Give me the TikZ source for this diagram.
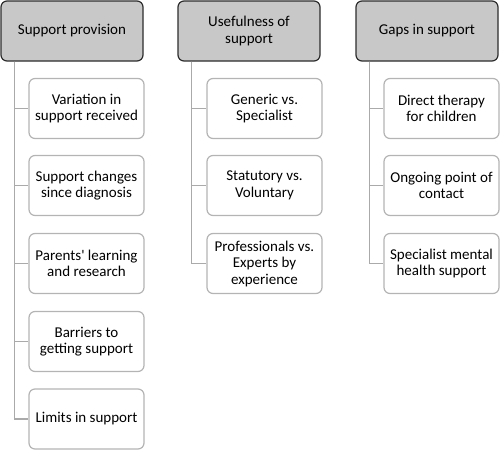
\documentclass[tikz,border=0pt]{standalone}
\usepackage{fontspec}
\setmainfont{Carlito}[Ligatures=TeXOff]
\definecolor{hdrfill}{RGB}{200,200,200}
\definecolor{hdrline}{RGB}{45,45,45}
\definecolor{boxline}{RGB}{180,180,180}
\definecolor{conline}{RGB}{170,170,170}
\begin{document}
\begin{tikzpicture}[x=1pt,y=-1pt,
  hdr/.style={draw=hdrline,fill=hdrfill,line width=1.2pt,rounded corners=6pt,
    minimum width=142pt,minimum height=60pt,align=center,inner sep=2pt,
    font=\fontsize{15}{16.5}\selectfont},
  child/.style={draw=boxline,fill=white,line width=1.2pt,rounded corners=6pt,
    minimum width=115pt,minimum height=60pt,align=center,inner sep=2pt,
    font=\fontsize{15}{16.5}\selectfont},
  con/.style={draw=conline,line width=1.2pt}]
\useasboundingbox (0,0) rectangle (500,450);
% headers
\node[hdr] (h1) at (72,31) {Support provision};
\node[hdr] (h2) at (249,31) {Usefulness of\\support};
\node[hdr] (h3) at (427,31) {Gaps in support};
% column 1
\node[child] (a1) at (86.5,108.5) {Variation in\\support received};
\node[child] (a2) at (86.5,185.5) {Support changes\\since diagnosis};
\node[child] (a3) at (86.5,263.5) {Parents' learning\\and research};
\node[child] (a4) at (86.5,341.5) {Barriers to\\getting support};
\node[child] (a5) at (86.5,419) {Limits in support};
% column 2
\node[child] (b1) at (264.5,108.5) {Generic vs.\\Specialist};
\node[child] (b2) at (264.5,185.5) {Statutory vs.\\Voluntary};
\node[child] (b3) at (264.5,263.5) {Professionals vs.\\Experts by\\experience};
% column 3
\node[child] (c1) at (441.5,108.5) {Direct therapy\\for children};
\node[child] (c2) at (441.5,185.5) {Ongoing point of\\contact};
\node[child] (c3) at (441.5,263.5) {Specialist mental\\health support};
% connectors
\foreach \h/\list in {h1/{a1,a2,a3,a4,a5}, h2/{b1,b2,b3}, h3/{c1,c2,c3}}{
  \foreach \c in \list {
    \draw[con] ([xshift=14pt]\h.south west) |- (\c.west);
  }
}
\end{tikzpicture}
\end{document}
